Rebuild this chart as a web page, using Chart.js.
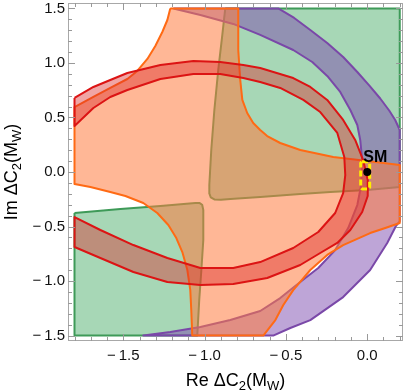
<!DOCTYPE html>
<html>
<head>
<meta charset="utf-8">
<script src="https://cdn.jsdelivr.net/npm/chart.js@4.4.1/dist/chart.umd.min.js"></script>
<style>
  html, body { margin: 0; padding: 0; background: #fff; }
  #wrap { width: 407px; height: 391px; }
</style>
</head>
<body>
<div id="wrap"><canvas id="chart" width="407" height="391"></canvas></div>
<script>
// tick labels
const xTicks = [-1.5, -1.0, -0.5, 0.0];
const yTicks = [-1.5, -1.0, -0.5, 0.0, 0.5, 1.0, 1.5];

// allowed regions, outlines as [Re, Im]
const greenUpper = [
  [-0.873, 1.5], [0.2, 1.5], [0.2, -0.138], [0, -0.165], [-0.227, -0.183], [-0.412, -0.202],
  [-0.658, -0.229], [-0.842, -0.248], [-0.9, -0.255], [-0.94, -0.252], [-0.962, -0.232],
  [-0.97, -0.2], [-0.971, -0.119], [-0.959, 0.202], [-0.94, 0.569], [-0.916, 0.936],
  [-0.891, 1.257], [-0.873, 1.5]
];
const greenLower = [
  [-1.8, -0.376], [-1.518, -0.339], [-1.272, -0.312], [-1.057, -0.284], [-1.03, -0.285],
  [-1.015, -0.3], [-1.008, -0.349], [-1.008, -0.624], [-1.02, -0.899], [-1.033, -1.174],
  [-1.045, -1.5], [-1.8, -1.5], [-1.8, -0.376]
];
const purpleRing = [
  [-1.192, 1.5], [-0.547, 1.5], [-0.449, 1.413], [-0.35, 1.303], [-0.246, 1.183], [-0.148, 1.055],
  [-0.061, 0.917], [0.012, 0.794], [0.08, 0.674], [0.135, 0.564], [0.172, 0.477], [0.2, 0.385],
  [0.2, -0.45], [0.175, -0.5], [0.123, -0.651], [0.018, -0.899], [-0.148, -1.147],
  [-0.35, -1.358], [-0.473, -1.431], [-0.578, -1.5], [-1.377, -1.5],
  [-1.211, -1.468], [-1.026, -1.422], [-0.842, -1.358], [-0.658, -1.275], [-0.535, -1.156],
  [-0.412, -1.009], [-0.301, -0.881], [-0.197, -0.716], [-0.117, -0.514], [-0.061, -0.303],
  [-0.037, -0.119], [-0.031, 0.11], [-0.043, 0.294], [-0.061, 0.431], [-0.104, 0.569],
  [-0.166, 0.734], [-0.246, 0.881], [-0.338, 1.009], [-0.455, 1.119], [-0.658, 1.257],
  [-0.824, 1.358], [-1.026, 1.44], [-1.192, 1.5]
];
const redRing = [
  [-1.8, 0.679], [-1.684, 0.78], [-1.58, 0.844], [-1.475, 0.908], [-1.272, 0.982], [-1.069, 1.018],
  [-0.904, 1.009], [-0.762, 0.982], [-0.658, 0.954], [-0.455, 0.862], [-0.35, 0.78], [-0.246, 0.661],
  [-0.148, 0.477], [-0.074, 0.294], [-0.025, 0.11], [0.004, -0.08], [0.003, -0.22], [-0.031, -0.367],
  [-0.104, -0.532], [-0.184, -0.651], [-0.289, -0.743], [-0.412, -0.853], [-0.615, -0.972],
  [-0.824, -1.028], [-1.026, -1.037], [-1.229, -1.009], [-1.438, -0.917], [-1.641, -0.789],
  [-1.8, -0.688],
  [-1.8, -0.413], [-1.641, -0.532], [-1.438, -0.67], [-1.229, -0.789], [-1.026, -0.881],
  [-0.824, -0.881], [-0.658, -0.826], [-0.455, -0.697], [-0.301, -0.55], [-0.197, -0.376],
  [-0.148, -0.193], [-0.135, -0.028], [-0.141, 0.138], [-0.184, 0.358], [-0.289, 0.55],
  [-0.393, 0.661], [-0.535, 0.771], [-0.658, 0.826], [-0.762, 0.862], [-0.904, 0.899],
  [-1.069, 0.899], [-1.272, 0.853], [-1.475, 0.752], [-1.58, 0.688], [-1.684, 0.587],
  [-1.8, 0.422], [-1.8, 0.679]
];
const orangeCross = [
  [-1.211, 1.5], [-0.793, 1.5], [-0.793, 1.119], [-0.781, 0.844], [-0.768, 0.661], [-0.738, 0.541],
  [-0.701, 0.45], [-0.658, 0.385], [-0.615, 0.33], [-0.535, 0.266], [-0.412, 0.202], [-0.209, 0.138],
  [0, 0.101], [0.2, 0.064],
  [0.2, -0.468], [0.111, -0.514], [0.018, -0.56], [-0.148, -0.67], [-0.246, -0.761], [-0.35, -0.899],
  [-0.455, -1.083], [-0.516, -1.22], [-0.565, -1.358], [-0.639, -1.5],
  [-1.076, -1.5], [-1.082, -1.266], [-1.088, -1.083], [-1.106, -0.899], [-1.137, -0.734],
  [-1.174, -0.606], [-1.223, -0.486], [-1.291, -0.376], [-1.377, -0.284], [-1.487, -0.22],
  [-1.58, -0.183], [-1.702, -0.138], [-1.8, -0.11],
  [-1.8, 0.596], [-1.684, 0.688], [-1.58, 0.771], [-1.475, 0.853], [-1.414, 0.927], [-1.352, 1.037],
  [-1.303, 1.156], [-1.26, 1.284], [-1.229, 1.394], [-1.211, 1.5]
];
const yellowBox = [
  [-0.032, 0.095], [0.007, 0.095], [0.015, 0.083], [0.015, -0.143], [0.007, -0.155],
  [-0.032, -0.155], [-0.04, -0.143], [-0.04, 0.083], [-0.032, 0.095]
];
const smPoint = [[0, 0]];

const toPts = arr => arr.map(([x, y]) => ({ x, y }));
const fmt = v => (v < 0 ? '\u2212\u2009' : '') + Math.abs(v).toFixed(1);
const FONT = 'Liberation Sans';

function region(label, pts, line, fillColor, order) {
  return {
    label, data: toPts(pts), showLine: true, fill: 'shape',
    borderColor: line, backgroundColor: fillColor, borderWidth: 2,
    borderJoinStyle: 'round', pointRadius: 0, pointHoverRadius: 0,
    tension: 0, order
  };
}

function richText(ctx, parts, x0, y0, big, small, drop, center) {
  let w = 0;
  for (const p of parts) { ctx.font = p.sub ? small : big; w += ctx.measureText(p.t).width; }
  let x = center ? x0 - w / 2 : x0;
  for (const p of parts) {
    ctx.font = p.sub ? small : big;
    ctx.fillText(p.t, x, p.sub ? y0 + drop : y0);
    x += ctx.measureText(p.t).width;
  }
}

const decor = {
  id: 'decor',
  afterDatasetsDraw(chart) {
    const { ctx, chartArea: a, scales: { x, y } } = chart;
    ctx.save();
    // frame
    ctx.strokeStyle = '#a8a8a8';
    ctx.lineWidth = 1;
    ctx.strokeRect(a.left + 0.5, a.top + 0.5, a.right - a.left - 1, a.bottom - a.top - 1);
    // inward ticks on all four sides
    ctx.strokeStyle = '#999';
    ctx.beginPath();
    for (let k = -18; k <= 2; k++) {
      const v = k / 10;
      const len = k % 5 === 0 ? 7 : 4;
      const px = Math.round(x.getPixelForValue(v)) + 0.5;
      ctx.moveTo(px, a.bottom); ctx.lineTo(px, a.bottom - len);
      ctx.moveTo(px, a.top); ctx.lineTo(px, a.top + len);
    }
    for (let k = -15; k <= 15; k++) {
      const v = k / 10;
      const len = k % 5 === 0 ? 7 : 4;
      const py = Math.round(y.getPixelForValue(v)) + 0.5;
      ctx.moveTo(a.left, py); ctx.lineTo(a.left + len, py);
      ctx.moveTo(a.right, py); ctx.lineTo(a.right - len, py);
    }
    ctx.stroke();

    // SM label
    ctx.fillStyle = '#000';
    ctx.font = 'bold 16px ' + FONT;
    ctx.textAlign = 'left';
    ctx.textBaseline = 'alphabetic';
    ctx.fillText('SM', x.getPixelForValue(0) - 4, y.getPixelForValue(0) - 10);

    // axis titles with subscripts
    const big = '18px ' + FONT, small = '13px ' + FONT;
    richText(ctx, [{ t: 'Re \u0394C' }, { t: '2', sub: true }, { t: '(M' }, { t: 'W', sub: true }, { t: ')' }],
      (a.left + a.right) / 2, 386, big, small, 4, true);
    ctx.translate(17, (a.top + a.bottom) / 2);
    ctx.rotate(-Math.PI / 2);
    richText(ctx, [{ t: 'Im \u0394C' }, { t: '2', sub: true }, { t: '(M' }, { t: 'W', sub: true }, { t: ')' }],
      0, 0, big, small, 4, true);
    ctx.restore();
  }
};

new Chart(document.getElementById('chart'), {
  type: 'scatter',
  data: {
    datasets: [
      { label: 'SM', data: toPts(smPoint), pointRadius: 4, pointHoverRadius: 4,
        backgroundColor: '#000', borderWidth: 0, showLine: false, order: 0 },
      { label: 'box', data: toPts(yellowBox), showLine: true, fill: false, borderColor: '#ffee00',
        borderWidth: 3, borderDash: [6, 3], pointRadius: 0, tension: 0, borderJoinStyle: 'round', order: 1 },
      region('red', redRing, '#dc1414', 'rgba(220,40,40,0.42)', 2),
      region('orange', orangeCross, '#ff6a14', 'rgba(255,124,64,0.55)', 3),
      region('purple', purpleRing, '#7a48a8', 'rgba(125,75,175,0.5)', 4),
      region('green upper', greenUpper, '#3e9a58', 'rgba(80,175,110,0.5)', 5),
      region('green lower', greenLower, '#3e9a58', 'rgba(80,175,110,0.5)', 6)
    ]
  },
  options: {
    responsive: false,
    animation: false,
    events: [],
    layout: { padding: { top: 3, right: 4, left: 0, bottom: 0 }, autoPadding: false },
    plugins: { legend: { display: false }, tooltip: { enabled: false } },
    scales: {
      x: {
        type: 'linear', min: -1.84, max: 0.22,
        grid: { display: false, drawTicks: false }, border: { display: false },
        afterBuildTicks: s => { s.ticks = xTicks.map(v => ({ value: v })); },
        afterFit: s => { s.height = 50; s.paddingLeft = 0; s.paddingRight = 0; },
        ticks: { padding: 6, color: '#111', autoSkip: false, maxRotation: 0,
          font: { family: FONT, size: 15 }, callback: fmt }
      },
      y: {
        type: 'linear', min: -1.55, max: 1.55,
        grid: { display: false, drawTicks: false }, border: { display: false },
        afterBuildTicks: s => { s.ticks = yTicks.map(v => ({ value: v })); },
        afterFit: s => { s.width = 68; s.paddingTop = 0; s.paddingBottom = 0; },
        ticks: { padding: 3, color: '#111', autoSkip: false,
          font: { family: FONT, size: 15 }, callback: fmt }
      }
    }
  },
  plugins: [decor]
});
</script>
</body>
</html>
